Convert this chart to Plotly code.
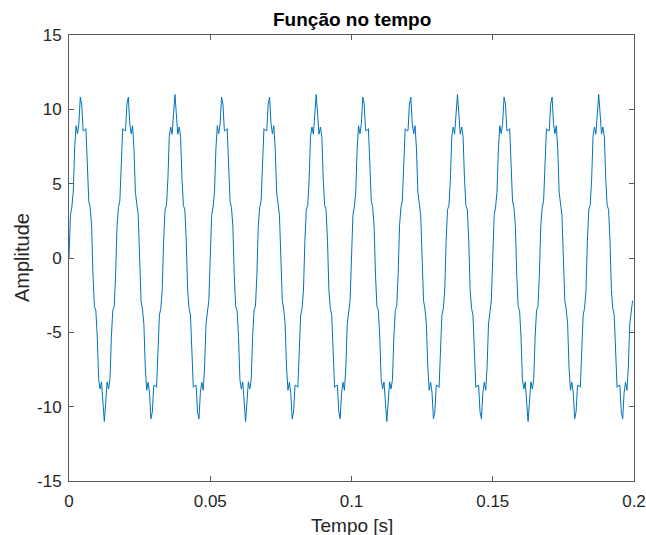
import plotly.graph_objects as go

# Sampling interval of the recorded signal (s)
sample_interval = 0.0005

# Amplitude samples (400 samples, 0 .. 0.1995 s)
amplitude = [
    0.00, 2.87, 3.43, 4.43, 7.33, 8.90, 8.36, 9.05, 10.82, 10.35,
    8.56, 8.58, 8.70, 6.31, 3.84, 3.40, 2.16, -1.16, -3.26, -3.53,
    -5.29, -8.17, -8.81, -8.33, -9.70, -11.00, -9.70, -8.33, -8.81, -8.17,
    -5.29, -3.53, -3.26, -1.16, 2.16, 3.40, 3.84, 6.31, 8.70, 8.58,
    8.56, 10.35, 10.82, 9.05, 8.36, 8.90, 7.33, 4.43, 3.43, 2.87,
    0.00, -2.87, -3.43, -4.43, -7.33, -8.90, -8.36, -9.05, -10.82, -10.35,
    -8.56, -8.58, -8.70, -6.31, -3.84, -3.40, -2.16, 1.16, 3.26, 3.53,
    5.29, 8.17, 8.81, 8.33, 9.70, 11.00, 9.70, 8.33, 8.81, 8.17,
    5.29, 3.53, 3.26, 1.16, -2.16, -3.40, -3.84, -6.31, -8.70, -8.58,
    -8.56, -10.35, -10.82, -9.05, -8.36, -8.90, -7.33, -4.43, -3.43, -2.87,
    0.00, 2.87, 3.43, 4.43, 7.33, 8.90, 8.36, 9.05, 10.82, 10.35,
    8.56, 8.58, 8.70, 6.31, 3.84, 3.40, 2.16, -1.16, -3.26, -3.53,
    -5.29, -8.17, -8.81, -8.33, -9.70, -11.00, -9.70, -8.33, -8.81, -8.17,
    -5.29, -3.53, -3.26, -1.16, 2.16, 3.40, 3.84, 6.31, 8.70, 8.58,
    8.56, 10.35, 10.82, 9.05, 8.36, 8.90, 7.33, 4.43, 3.43, 2.87,
    0.00, -2.87, -3.43, -4.43, -7.33, -8.90, -8.36, -9.05, -10.82, -10.35,
    -8.56, -8.58, -8.70, -6.31, -3.84, -3.40, -2.16, 1.16, 3.26, 3.53,
    5.29, 8.17, 8.81, 8.33, 9.70, 11.00, 9.70, 8.33, 8.81, 8.17,
    5.29, 3.53, 3.26, 1.16, -2.16, -3.40, -3.84, -6.31, -8.70, -8.58,
    -8.56, -10.35, -10.82, -9.05, -8.36, -8.90, -7.33, -4.43, -3.43, -2.87,
    0.00, 2.87, 3.43, 4.43, 7.33, 8.90, 8.36, 9.05, 10.82, 10.35,
    8.56, 8.58, 8.70, 6.31, 3.84, 3.40, 2.16, -1.16, -3.26, -3.53,
    -5.29, -8.17, -8.81, -8.33, -9.70, -11.00, -9.70, -8.33, -8.81, -8.17,
    -5.29, -3.53, -3.26, -1.16, 2.16, 3.40, 3.84, 6.31, 8.70, 8.58,
    8.56, 10.35, 10.82, 9.05, 8.36, 8.90, 7.33, 4.43, 3.43, 2.87,
    0.00, -2.87, -3.43, -4.43, -7.33, -8.90, -8.36, -9.05, -10.82, -10.35,
    -8.56, -8.58, -8.70, -6.31, -3.84, -3.40, -2.16, 1.16, 3.26, 3.53,
    5.29, 8.17, 8.81, 8.33, 9.70, 11.00, 9.70, 8.33, 8.81, 8.17,
    5.29, 3.53, 3.26, 1.16, -2.16, -3.40, -3.84, -6.31, -8.70, -8.58,
    -8.56, -10.35, -10.82, -9.05, -8.36, -8.90, -7.33, -4.43, -3.43, -2.87,
    0.00, 2.87, 3.43, 4.43, 7.33, 8.90, 8.36, 9.05, 10.82, 10.35,
    8.56, 8.58, 8.70, 6.31, 3.84, 3.40, 2.16, -1.16, -3.26, -3.53,
    -5.29, -8.17, -8.81, -8.33, -9.70, -11.00, -9.70, -8.33, -8.81, -8.17,
    -5.29, -3.53, -3.26, -1.16, 2.16, 3.40, 3.84, 6.31, 8.70, 8.58,
    8.56, 10.35, 10.82, 9.05, 8.36, 8.90, 7.33, 4.43, 3.43, 2.87,
    0.00, -2.87, -3.43, -4.43, -7.33, -8.90, -8.36, -9.05, -10.82, -10.35,
    -8.56, -8.58, -8.70, -6.31, -3.84, -3.40, -2.16, 1.16, 3.26, 3.53,
    5.29, 8.17, 8.81, 8.33, 9.70, 11.00, 9.70, 8.33, 8.81, 8.17,
    5.29, 3.53, 3.26, 1.16, -2.16, -3.40, -3.84, -6.31, -8.70, -8.58,
    -8.56, -10.35, -10.82, -9.05, -8.36, -8.90, -7.33, -4.43, -3.43, -2.87,
]
time = [i * sample_interval for i in range(len(amplitude))]

x_tick_values = [0, 0.05, 0.1, 0.15, 0.2]
x_tick_labels = ["0", "0.05", "0.1", "0.15", "0.2"]
y_tick_values = [-15, -10, -5, 0, 5, 10, 15]
y_tick_labels = ["-15", "-10", "-5", "0", "5", "10", "15"]

title_text = "Função no tempo"
x_label = "Tempo [s]"
y_label = "Amplitude"

FONT = "Liberation Sans, Arial, Helvetica, sans-serif"
AX = "#262626"

fig = go.Figure()
fig.add_trace(go.Scatter(
    x=time, y=amplitude, mode="lines",
    line=dict(color="#0072BD", width=1),
    showlegend=False, hoverinfo="skip",
))

axis_common = dict(
    showgrid=False, zeroline=False, showline=True, linecolor="#5a5a5a",
    linewidth=1, mirror="ticks", ticks="inside", ticklen=5,
    tickcolor="#5a5a5a", tickwidth=1, automargin=False,
    tickfont=dict(family=FONT, size=17, color=AX),
)

fig.update_layout(
    width=646, height=535, autosize=False,
    margin=dict(l=69, r=12, t=35, b=54, autoexpand=False),
    paper_bgcolor="white", plot_bgcolor="white",
    xaxis=dict(range=[0, 0.2], tickvals=x_tick_values, ticktext=x_tick_labels,
               ticklabelstandoff=5, **axis_common),
    yaxis=dict(range=[-15, 15], tickvals=y_tick_values, ticktext=y_tick_labels,
               ticklabelstandoff=3, **axis_common),
    annotations=[
        dict(text="<b>" + title_text + "</b>", x=0.5, y=1, xref="paper", yref="paper",
             xanchor="center", yanchor="middle", yshift=16, showarrow=False,
             font=dict(family=FONT, size=19, color="black")),
        dict(text=x_label, x=0.5, y=0, xref="paper", yref="paper",
             xanchor="center", yanchor="middle", yshift=-44, showarrow=False,
             font=dict(family=FONT, size=19, color=AX)),
        dict(text=y_label, x=0, y=0.5, xref="paper", yref="paper",
             xanchor="center", yanchor="middle", xshift=-47, textangle=-90,
             showarrow=False, font=dict(family=FONT, size=20, color=AX)),
    ],
)

fig.write_html("out.html", config={"displayModeBar": False},
               post_script="document.body.style.margin='0';")
